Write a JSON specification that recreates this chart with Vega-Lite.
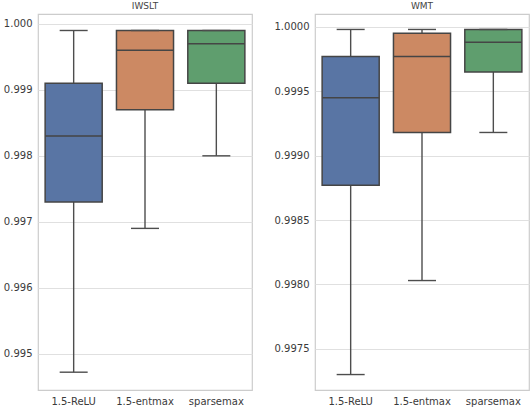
{
  "$schema": "https://vega.github.io/schema/vega-lite/v6.json",
  "background": "#ffffff",
  "padding": {"left": 2, "top": 1, "right": 2, "bottom": 2},
  "spacing": 20,
  "datasets": {
    "boxes": [
      {"dataset": "IWSLT", "model": "1.5-ReLU", "lo": 0.99472, "q1": 0.9973, "med": 0.9983, "q3": 0.9991, "hi": 0.9999},
      {"dataset": "IWSLT", "model": "1.5-entmax", "lo": 0.9969, "q1": 0.9987, "med": 0.9996, "q3": 0.9999, "hi": 0.9999},
      {"dataset": "IWSLT", "model": "sparsemax", "lo": 0.998, "q1": 0.9991, "med": 0.9997, "q3": 0.9999, "hi": 0.9999},
      {"dataset": "WMT", "model": "1.5-ReLU", "lo": 0.9973, "q1": 0.99877, "med": 0.99945, "q3": 0.99977, "hi": 0.99998},
      {"dataset": "WMT", "model": "1.5-entmax", "lo": 0.99803, "q1": 0.99918, "med": 0.99977, "q3": 0.99995, "hi": 0.99998},
      {"dataset": "WMT", "model": "sparsemax", "lo": 0.99918, "q1": 0.99965, "med": 0.99988, "q3": 0.99998, "hi": 0.99998}
    ]
  },
  "config": {
    "font": "DejaVu Sans",
    "view": {"stroke": "#cccccc", "strokeWidth": 1.2},
    "title": {"fontSize": 9, "fontWeight": "normal", "color": "#444444", "offset": 3},
    "axis": {"labelColor": "#3a3a3a", "labelFontSize": 10, "ticks": false, "domain": false, "title": null}
  },
  "hconcat": [
    {
      "title": "IWSLT",
      "width": 214,
      "height": 376,
      "data": {"name": "boxes"},
      "transform": [{"filter": "datum.dataset === 'IWSLT'"}],
      "encoding": {
        "x": {
          "field": "model",
          "type": "nominal",
          "sort": ["1.5-ReLU", "1.5-entmax", "sparsemax"],
          "scale": {"paddingInner": 0.2, "paddingOuter": 0.1},
          "axis": {"labelAngle": 0, "grid": false, "labelPadding": 6}
        }
      },
      "layer": [
        {
          "mark": {"type": "rule", "color": "#4d4d4d", "strokeWidth": 1.4},
          "encoding": {
            "y": {
              "field": "lo",
              "type": "quantitative",
              "scale": {"domain": [0.99445, 1.00015], "nice": false, "zero": false},
              "axis": {"values": [0.995, 0.996, 0.997, 0.998, 0.999, 1.0], "format": ".3f", "grid": true, "gridColor": "#e0e0e0", "labelPadding": 6}
            },
            "y2": {"field": "hi"}
          }
        },
        {
          "mark": {"type": "bar", "stroke": "#454545", "strokeWidth": 1.5},
          "encoding": {
            "y": {"field": "q1", "type": "quantitative"},
            "y2": {"field": "q3"},
            "color": {
              "field": "model",
              "type": "nominal",
              "scale": {"domain": ["1.5-ReLU", "1.5-entmax", "sparsemax"], "range": ["#5975a4", "#cc8963", "#5f9e6e"]},
              "legend": null
            }
          }
        },
        {
          "mark": {"type": "tick", "size": 57, "thickness": 1.5, "color": "#454545", "opacity": 1},
          "encoding": {"y": {"field": "med", "type": "quantitative"}}
        },
        {
          "mark": {"type": "tick", "size": 28, "thickness": 1.4, "color": "#4d4d4d", "opacity": 1},
          "encoding": {"y": {"field": "lo", "type": "quantitative"}}
        },
        {
          "mark": {"type": "tick", "size": 28, "thickness": 1.4, "color": "#4d4d4d", "opacity": 1},
          "encoding": {"y": {"field": "hi", "type": "quantitative"}}
        }
      ]
    },
    {
      "title": "WMT",
      "width": 214,
      "height": 376,
      "data": {"name": "boxes"},
      "transform": [{"filter": "datum.dataset === 'WMT'"}],
      "encoding": {
        "x": {
          "field": "model",
          "type": "nominal",
          "sort": ["1.5-ReLU", "1.5-entmax", "sparsemax"],
          "scale": {"paddingInner": 0.2, "paddingOuter": 0.1},
          "axis": {"labelAngle": 0, "grid": false, "labelPadding": 6}
        }
      },
      "layer": [
        {
          "mark": {"type": "rule", "color": "#4d4d4d", "strokeWidth": 1.4},
          "encoding": {
            "y": {
              "field": "lo",
              "type": "quantitative",
              "scale": {"domain": [0.99718, 1.0001], "nice": false, "zero": false},
              "axis": {"values": [0.9975, 0.998, 0.9985, 0.999, 0.9995, 1.0], "format": ".4f", "grid": true, "gridColor": "#e0e0e0", "labelPadding": 6}
            },
            "y2": {"field": "hi"}
          }
        },
        {
          "mark": {"type": "bar", "stroke": "#454545", "strokeWidth": 1.5},
          "encoding": {
            "y": {"field": "q1", "type": "quantitative"},
            "y2": {"field": "q3"},
            "color": {
              "field": "model",
              "type": "nominal",
              "scale": {"domain": ["1.5-ReLU", "1.5-entmax", "sparsemax"], "range": ["#5975a4", "#cc8963", "#5f9e6e"]},
              "legend": null
            }
          }
        },
        {
          "mark": {"type": "tick", "size": 57, "thickness": 1.5, "color": "#454545", "opacity": 1},
          "encoding": {"y": {"field": "med", "type": "quantitative"}}
        },
        {
          "mark": {"type": "tick", "size": 28, "thickness": 1.4, "color": "#4d4d4d", "opacity": 1},
          "encoding": {"y": {"field": "lo", "type": "quantitative"}}
        },
        {
          "mark": {"type": "tick", "size": 28, "thickness": 1.4, "color": "#4d4d4d", "opacity": 1},
          "encoding": {"y": {"field": "hi", "type": "quantitative"}}
        }
      ]
    }
  ]
}
